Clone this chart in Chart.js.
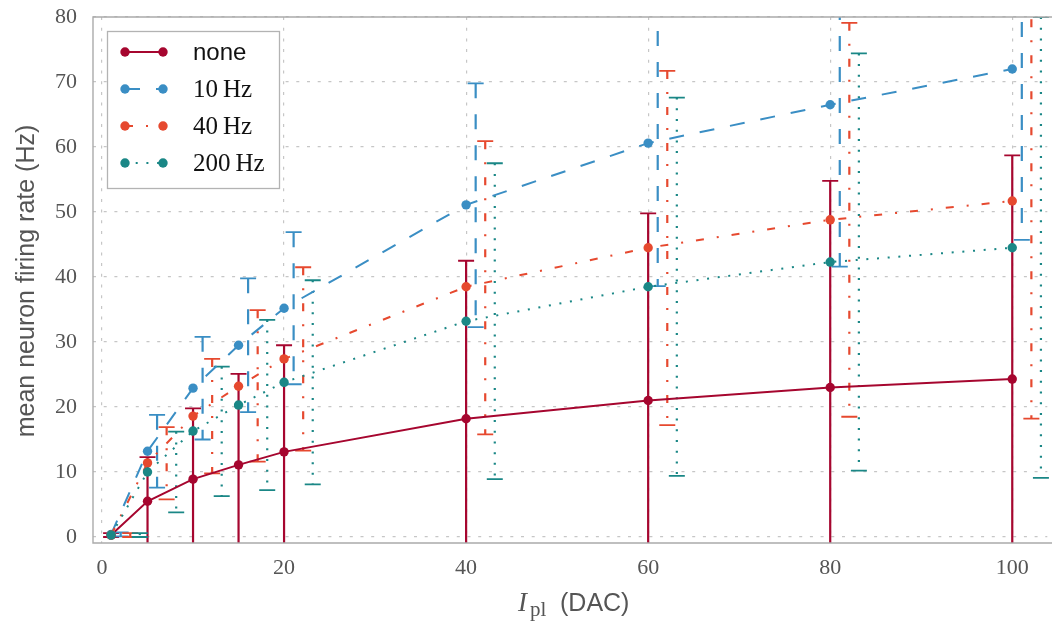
<!DOCTYPE html>
<html><head><meta charset="utf-8">
<script src="https://cdn.jsdelivr.net/npm/chart.js@4.4.1/dist/chart.umd.min.js"></script>
<style>html,body{margin:0;padding:0;background:#fff;}#wrap{width:1052px;height:624px;position:relative;}</style>
</head><body><div id="wrap"><canvas id="c" width="1052" height="624"></canvas></div>
<script>
// ---------- data ----------
const xValues = [1, 5, 10, 15, 20, 40, 60, 80, 100];
const seriesNames = ['none', '10\u2009Hz', '40\u2009Hz', '200\u2009Hz'];

const noneMean  = [0.3, 5.5, 8.9, 11.1, 13.1, 18.2, 21.0, 23.0, 24.3];
const noneHigh  = [0.6, 12.3, 19.8, 25.1, 29.5, 42.5, 49.8, 54.8, 58.7];
const noneLow   = [0.0, -1.3, -2.0, -2.9, -3.3, -6.1, -7.8, -8.8, -10.1];

const hz10Mean  = [0.4, 13.2, 22.9, 29.5, 35.2, 51.1, 60.6, 66.5, 72.0];
const hz10High  = [0.7, 18.8, 30.8, 39.8, 46.9, 69.8, 82.6, 91.4, 98.3];
const hz10Low   = [0.1, 7.6, 15.0, 19.2, 23.5, 32.3, 38.6, 41.6, 45.7];

const hz40Mean  = [0.3, 11.4, 18.6, 23.2, 27.4, 38.5, 44.5, 48.8, 51.7];
const hz40High  = [0.6, 16.9, 27.4, 34.9, 41.5, 60.9, 71.7, 79.1, 85.2];
const hz40Low   = [0.0, 5.8, 9.8, 11.6, 13.3, 15.8, 17.2, 18.5, 18.2];

const hz200Mean = [0.3, 10.0, 16.3, 20.3, 23.8, 33.2, 38.5, 42.3, 44.5];
const hz200High = [0.6, 16.2, 26.2, 33.4, 39.5, 57.5, 67.6, 74.4, 80.0];
const hz200Low  = [0.0, 3.8, 6.3, 7.2, 8.1, 8.9, 9.4, 10.2, 9.1];

const xTicks = [0, 20, 40, 60, 80, 100];
const yTicks = [0, 10, 20, 30, 40, 50, 60, 70, 80];

// ---------- styles ----------
const colors = ['#a6062f', '#3a8ec4', '#e6492f', '#1a8786'];
const dashes = [[], [15, 16], [8, 13, 2, 13], [2, 8.7]];
const means = [noneMean, hz10Mean, hz40Mean, hz200Mean];
const highs = [noneHigh, hz10High, hz40High, hz200High];
const lows  = [noneLow, hz10Low, hz40Low, hz200Low];
const ERR_SHIFT = 1.05; // horizontal shift of each series' error bars (x units)

const datasets = seriesNames.map((name, i) => ({
  label: name,
  data: xValues.map((x, j) => ({x: x, y: means[i][j]})),
  borderColor: colors[i],
  backgroundColor: colors[i],
  borderWidth: 2,
  borderDash: dashes[i],
  pointRadius: 4.7,
  pointHoverRadius: 4.7,
  pointBorderWidth: 0,
  pointBackgroundColor: colors[i],
  tension: 0,
  order: 3 - i,
  errHigh: highs[i],
  errLow: lows[i],
  errShift: i * ERR_SHIFT
}));

const errorBarPlugin = {
  id: 'errorBars',
  beforeDatasetsDraw(chart) {
    const {ctx, chartArea: a, scales: {x, y}} = chart;
    ctx.save();
    ctx.beginPath();
    ctx.rect(a.left, a.top, chart.width - a.left, a.bottom - a.top);
    ctx.clip();
    chart.data.datasets.forEach((ds) => {
      ds.data.forEach((p, j) => {
        const px = x.getPixelForValue(p.x + ds.errShift);
        const yh = y.getPixelForValue(ds.errHigh[j]);
        const yl = y.getPixelForValue(ds.errLow[j]);
        ctx.strokeStyle = ds.borderColor;
        ctx.lineWidth = 2.2;
        ctx.setLineDash(ds.borderDash);
        ctx.beginPath();
        ctx.moveTo(px, yh);
        ctx.lineTo(px, yl);
        ctx.stroke();
        ctx.setLineDash([]);
        ctx.lineWidth = 1.8;
        ctx.beginPath();
        ctx.moveTo(px - 8, yh); ctx.lineTo(px + 8, yh);
        ctx.moveTo(px - 8, yl); ctx.lineTo(px + 8, yl);
        ctx.stroke();
      });
    });
    ctx.restore();
  }
};

const decorPlugin = {
  id: 'decor',
  afterDraw(chart) {
    const {ctx, chartArea: a} = chart;
    ctx.save();
    // frame
    ctx.strokeStyle = '#ababab';
    ctx.lineWidth = 1.4;
    ctx.setLineDash([]);
    ctx.beginPath();
    ctx.moveTo(chart.width, a.top); ctx.lineTo(a.left, a.top);
    ctx.lineTo(a.left, a.bottom); ctx.lineTo(chart.width, a.bottom);
    ctx.stroke();

    // y title
    ctx.fillStyle = '#555';
    ctx.font = '25px "Liberation Sans"';
    ctx.textAlign = 'center';
    ctx.textBaseline = 'middle';
    ctx.save();
    ctx.translate(27, 281);
    ctx.rotate(-Math.PI / 2);
    ctx.fillText('mean neuron firing rate (Hz)', 0, 0);
    ctx.restore();

    // x title: I_pl (DAC)
    ctx.textAlign = 'left';
    ctx.textBaseline = 'alphabetic';
    const base = 611;
    ctx.font = 'italic 27px "Liberation Serif"';
    ctx.fillText('I', 518, base);
    ctx.font = '21px "Liberation Serif"';
    ctx.fillText('pl', 530, base + 5);
    ctx.font = '25px "Liberation Sans"';
    ctx.fillText('(DAC)', 560, base);

    // legend
    const lx = 107.5, ly = 31.5, lw = 172, lh = 157;
    ctx.fillStyle = '#fff';
    ctx.fillRect(lx, ly, lw, lh);
    ctx.strokeStyle = '#b3b3b3';
    ctx.lineWidth = 1.3;
    ctx.strokeRect(lx, ly, lw, lh);
    chart.data.datasets.forEach((ds, i) => {
      const yy = 52 + 37 * i;
      ctx.strokeStyle = ds.borderColor;
      ctx.lineWidth = 2;
      ctx.setLineDash(ds.borderDash);
      ctx.beginPath(); ctx.moveTo(125, yy); ctx.lineTo(163, yy); ctx.stroke();
      ctx.setLineDash([]);
      ctx.fillStyle = ds.borderColor;
      [125, 163].forEach(cx => { ctx.beginPath(); ctx.arc(cx, yy, 4.7, 0, Math.PI * 2); ctx.fill(); });
      ctx.fillStyle = '#111';
      ctx.textBaseline = 'middle';
      ctx.font = i === 0 ? '24px "Liberation Sans"' : '25px "Liberation Serif"';
      ctx.fillText(ds.label, 193, yy + 1);
    });
    ctx.restore();
  }
};

new Chart(document.getElementById('c'), {
  type: 'line',
  data: {datasets},
  options: {
    responsive: false,
    animation: false,
    devicePixelRatio: 1,
    clip: {left: 0, top: 0, right: 10, bottom: 0},
    layout: {padding: {top: 17, right: 0, left: 0, bottom: 0}},
    plugins: {legend: {display: false}, tooltip: {enabled: false}},
    scales: {
      x: {
        type: 'linear', min: -0.99, max: 103.85,
        afterBuildTicks: (s) => { s.ticks = xTicks.map(v => ({value: v})); },
        afterFit: (s) => { s.height = 81; s.paddingLeft = 0; s.paddingRight = 0; },
        grid: {color: '#c6c6c6', lineWidth: 1.2, drawTicks: false},
        border: {display: false, dash: [3, 7.7]},
        ticks: {font: {family: 'Liberation Serif', size: 22}, color: '#555', padding: 12, maxRotation: 0, autoSkip: false}
      },
      y: {
        type: 'linear', min: -0.92, max: 80,
        afterBuildTicks: (s) => { s.ticks = yTicks.map(v => ({value: v})); },
        afterFit: (s) => { s.width = 93; s.paddingTop = 0; s.paddingBottom = 0; },
        grid: {color: '#c6c6c6', lineWidth: 1.2, drawTicks: false},
        border: {display: false, dash: [3, 7.7]},
        ticks: {font: {family: 'Liberation Serif', size: 22}, color: '#555', padding: 16, autoSkip: false}
      }
    }
  },
  plugins: [errorBarPlugin, decorPlugin]
});
</script></body></html>
